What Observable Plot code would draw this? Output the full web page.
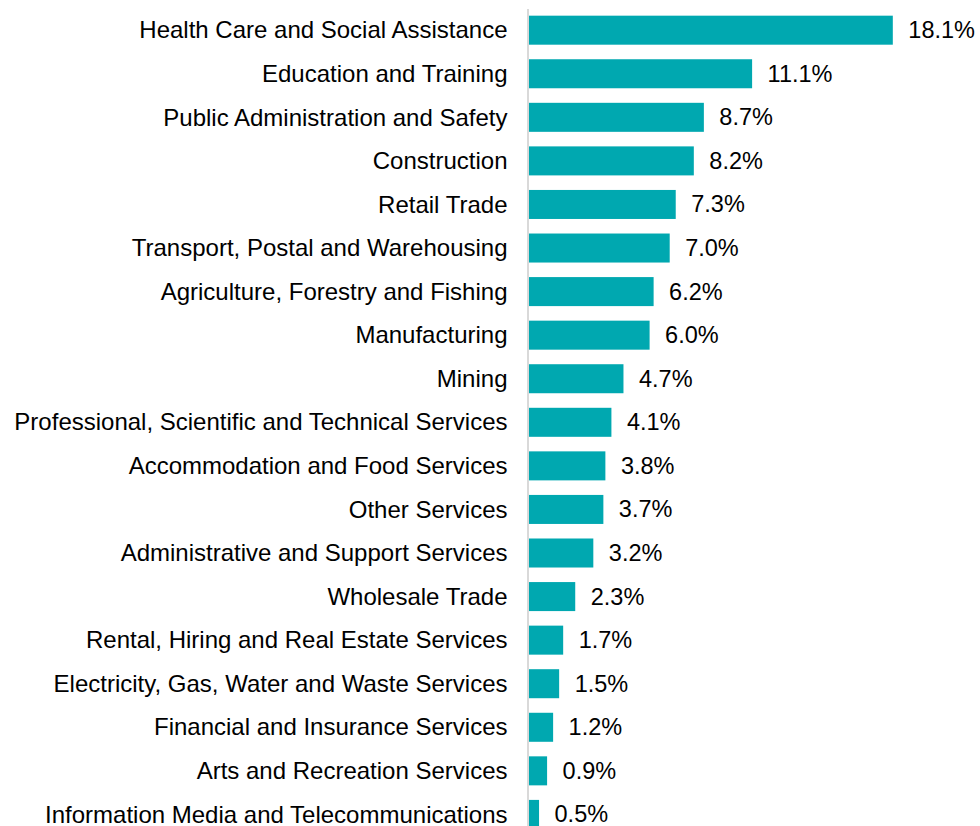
<!DOCTYPE html>
<html>
<head>
<meta charset="utf-8">
<script src="https://cdn.jsdelivr.net/npm/d3@7"></script>
<script src="https://cdn.jsdelivr.net/npm/@observablehq/plot@0.6"></script>
<style>
  html, body { margin: 0; padding: 0; background: #fff; }
  #chart svg { display: block; font-family: "Liberation Sans", Arial, sans-serif; }
</style>
</head>
<body>
<div id="chart"></div>
<script>
const categories = [
  "Health Care and Social Assistance",
  "Education and Training",
  "Public Administration and Safety",
  "Construction",
  "Retail Trade",
  "Transport, Postal and Warehousing",
  "Agriculture, Forestry and Fishing",
  "Manufacturing",
  "Mining",
  "Professional, Scientific and Technical Services",
  "Accommodation and Food Services",
  "Other Services",
  "Administrative and Support Services",
  "Wholesale Trade",
  "Rental, Hiring and Real Estate Services",
  "Electricity, Gas, Water and Waste Services",
  "Financial and Insurance Services",
  "Arts and Recreation Services",
  "Information Media and Telecommunications"
];
const values = [18.1, 11.1, 8.7, 8.2, 7.3, 7.0, 6.2, 6.0, 4.7, 4.1, 3.8, 3.7, 3.2, 2.3, 1.7, 1.5, 1.2, 0.9, 0.5];

const data = categories.map((c, i) => ({category: c, value: values[i]}));

const chart = Plot.plot({
  width: 980,
  height: 826,
  marginLeft: 529,
  marginRight: 49,
  marginTop: 9,
  marginBottom: 0,
  style: {fontFamily: "Liberation Sans, Arial, sans-serif", color: "#000"},
  x: {domain: [0, 20], axis: null},
  y: {domain: categories, range: [8.4, 836.2], paddingInner: 0.334, paddingOuter: 0.167, align: 0.5, round: false, label: null},
  marks: [
    Plot.barX(data, {x: "value", y: "category", fill: "#00A8B0"}),
    Plot.ruleX([0], {stroke: "#d9d9d9", strokeWidth: 2, dx: -1.5}),
    Plot.axisY({tickSize: 0, tickPadding: 22, fontSize: 24, label: null}),
    Plot.text(data, {
      x: "value", y: "category",
      text: d => d.value.toFixed(1) + "%",
      textAnchor: "start", dx: 15, fontSize: 23.5, fill: "#000"
    })
  ]
});
document.getElementById("chart").appendChild(chart);
</script>
</body>
</html>
